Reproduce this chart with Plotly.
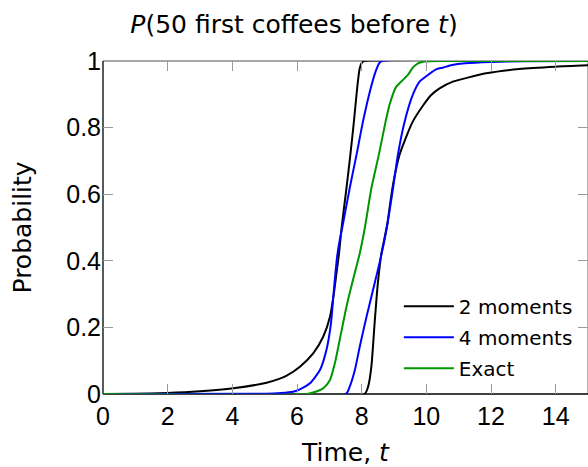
import plotly.graph_objects as go

# ---- data ----
# "2 moments" bounds (black)
t_2m_low = [0, 1, 1.98, 3.0, 4.03, 5.06, 5.47, 5.68, 6.09, 6.50, 6.81, 7.02, 7.14, 7.22, 7.30,
            7.38, 7.53, 7.65, 7.76, 7.86, 7.94, 8.02, 8.08, 15]
p_2m_low = [0, 0.001, 0.003, 0.008, 0.017, 0.034, 0.046, 0.055, 0.082, 0.122, 0.172, 0.232,
            0.302, 0.362, 0.422, 0.5, 0.618, 0.718, 0.818, 0.918, 0.978, 0.997, 1, 1]
t_2m_up = [0, 8.09, 8.20, 8.30, 8.40, 8.50, 8.61, 8.70, 8.80, 8.90, 9.00, 9.17, 9.36,
           9.58, 9.91, 10.15, 10.41, 10.82, 11.28, 11.85, 12.87, 14, 15]
p_2m_up = [0, 0, 0.022, 0.082, 0.212, 0.332, 0.422, 0.465, 0.515, 0.585, 0.645, 0.718,
           0.768, 0.818, 0.868, 0.898, 0.918, 0.938, 0.95, 0.963, 0.976, 0.983, 0.987]

# "4 moments" bounds (blue)
t_4m_low = [0, 5.0, 5.5, 5.88, 6.09, 6.40, 6.71, 6.91, 7.05, 7.14, 7.24, 7.32, 7.40, 7.63,
            7.84, 8.04, 8.28, 8.43, 8.54, 8.62, 15]
p_4m_low = [0, 0.001, 0.003, 0.007, 0.014, 0.032, 0.072, 0.132, 0.212, 0.312, 0.412, 0.462,
            0.5, 0.618, 0.718, 0.818, 0.918, 0.968, 0.993, 1, 1]
t_4m_up = [0, 7.51, 7.63, 7.79, 7.94, 8.15, 8.35, 8.58, 8.78, 8.97, 9.12, 9.33, 9.58,
           9.79, 9.94, 10.3, 10.5, 10.8, 11.2, 12, 13, 15]
p_4m_up = [0, 0, 0.022, 0.072, 0.142, 0.232, 0.312, 0.405, 0.5, 0.618, 0.718, 0.818,
           0.898, 0.938, 0.95, 0.975, 0.98, 0.988, 0.993, 0.997, 0.999, 1]

# Exact (green)
t_exact = [0, 6.30, 6.55, 6.81, 7.02, 7.17, 7.32, 7.53, 7.73, 7.94, 8.10, 8.30, 8.53,
           8.74, 8.86, 9.07, 9.17, 9.43, 9.58, 9.74, 9.89, 10.5, 15]
p_exact = [0, 0, 0.006, 0.017, 0.042, 0.092, 0.162, 0.262, 0.342, 0.422, 0.5, 0.618,
           0.718, 0.818, 0.868, 0.923, 0.933, 0.958, 0.98, 0.993, 0.998, 1, 1]

series_names = ["2 moments", "4 moments", "Exact"]
series_colors = ["black", "rgb(0,0,255)", "rgb(0,150,0)"]

x_ticks = [0, 2, 4, 6, 8, 10, 12, 14]
y_ticks = [0, 0.2, 0.4, 0.6, 0.8, 1]
y_ticklabels = ["0", "0.2", "0.4", "0.6", "0.8", "1"]

TEXT_FONT = "DejaVu Sans"
TICK_FONT = "Liberation Sans"

fig = go.Figure()

curves = [
    (0, t_2m_low, p_2m_low, True),
    (0, t_2m_up, p_2m_up, False),
    (1, t_4m_low, p_4m_low, True),
    (1, t_4m_up, p_4m_up, False),
    (2, t_exact, p_exact, True),
]
for idx, tx, py, show in curves:
    fig.add_trace(go.Scatter(
        x=tx, y=py, mode="lines",
        name=series_names[idx],
        legendgroup=series_names[idx],
        showlegend=show,
        line=dict(color=series_colors[idx], width=2, shape="spline", smoothing=0.6),
        cliponaxis=False,
        hoverinfo="skip",
    ))

W, H = 588, 467
ML, MR, MT, MB = 103, 0, 61, 73

axis_common = dict(
    showgrid=False, zeroline=False, showline=False,
    ticks="inside", ticklen=10, tickwidth=1, tickcolor="#9a9a9a",
    mirror="ticks",
    tickfont=dict(family=TICK_FONT, size=25, color="black"),
)

fig.update_layout(
    width=W, height=H,
    margin=dict(l=ML, r=MR, t=MT, b=MB, pad=0),
    plot_bgcolor="white", paper_bgcolor="white",
    title=dict(text="<i>P</i>(50 first coffees before <i>t</i>)",
               x=0.5, xref="container", xanchor="center",
               y=1 - 24 / H, yref="container", yanchor="middle",
               font=dict(family=TEXT_FONT, size=25, color="black")),
    xaxis=dict(range=[0, 15], tickvals=x_ticks, ticklabelstandoff=5, **axis_common),
    yaxis=dict(range=[0, 1], tickvals=y_ticks, ticktext=y_ticklabels,
               ticklabelstandoff=1, **axis_common),
    showlegend=True,
    legend=dict(x=0.61, y=0.322, xanchor="left", yanchor="top",
                bgcolor="rgba(255,255,255,0)", borderwidth=0,
                font=dict(family=TEXT_FONT, size=20, color="black"),
                tracegroupgap=2, itemwidth=50),
    font=dict(family=TEXT_FONT, color="black"),
)

# frame: left/bottom black, top/right gray
fig.add_shape(type="line", xref="paper", yref="paper", x0=0, x1=1, y0=1, y1=1,
              line=dict(color="#8a8a8a", width=1.3), layer="below")
fig.add_shape(type="line", xref="paper", yref="paper", x0=1, x1=1, y0=0, y1=1,
              line=dict(color="#8a8a8a", width=1.3), layer="below")
fig.add_shape(type="line", xref="paper", yref="paper", x0=0, x1=0, y0=0, y1=1,
              line=dict(color="black", width=1.3), layer="below")
fig.add_shape(type="line", xref="paper", yref="paper", x0=0, x1=1, y0=0, y1=0,
              line=dict(color="black", width=1.3), layer="below")

fig.add_annotation(text="Time, <i>t</i>", xref="paper", yref="paper", x=0.5, y=0,
                   xanchor="center", yanchor="middle", yshift=-58, showarrow=False,
                   font=dict(family=TEXT_FONT, size=25, color="black"))
fig.add_annotation(text="Probability", xref="paper", yref="paper", x=0, y=0.5,
                   xanchor="center", yanchor="middle", xshift=-81, textangle=-90,
                   showarrow=False,
                   font=dict(family=TEXT_FONT, size=25, color="black"))

fig.write_html("out.html")
